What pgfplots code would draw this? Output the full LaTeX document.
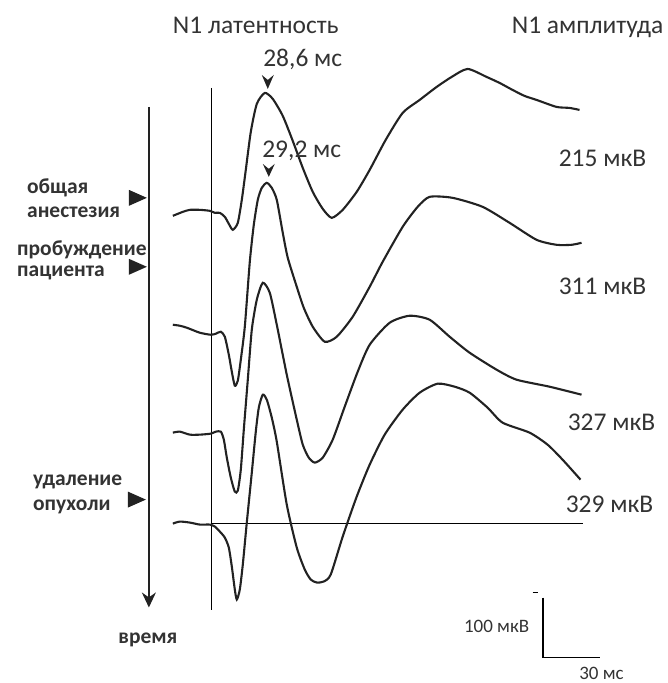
\documentclass[border=0pt]{standalone}
\usepackage{pgfplots}
\pgfplotsset{compat=1.18}
\usepackage{fontspec}
\setmainfont{Carlito}
\usetikzlibrary{arrows.meta}
\definecolor{ink}{HTML}{222222}
\definecolor{txt}{HTML}{333333}
\definecolor{thin}{HTML}{6A6A6A}
\begin{document}
\begin{tikzpicture}
\begin{axis}[
  scale only axis, width=668pt, height=683pt,
  xmin=0, xmax=668, ymin=0, ymax=683, y dir=reverse,
  axis lines=none, clip=false,
]
\addplot[draw=none] coordinates {(0,0) (668,683)};
% time arrow and reference lines
\addplot[ink, line width=2pt, -{Stealth[length=15pt,width=14pt]}] coordinates {(149,107) (149,608)};
\addplot[thin, line width=1pt] coordinates {(211.7,88) (211.7,610)};
\addplot[thin, line width=1.4pt] coordinates {(211,524) (583,524)};
% event markers
\addplot[fill=ink, draw=none] coordinates {(129,190) (147,198) (129,206) (129,190)};
\addplot[fill=ink, draw=none] coordinates {(129,259) (147,267) (129,275) (129,259)};
\addplot[fill=ink, draw=none] coordinates {(128,492) (146,500) (128,508) (128,492)};
% latency arrowheads
\addplot[fill=ink, draw=none] coordinates {(262,75) (268,80) (274,75) (268,89) (262,75)};
\addplot[fill=ink, draw=none] coordinates {(263,164) (269,169) (275,164) (269,177) (263,164)};
% scale bar
\addplot[thin, line width=1.6pt] coordinates {(543.3,598) (543.3,658) (600,658)};
\addplot[thin, line width=1.4pt] coordinates {(533,593) (538,593)};
% traces
\addplot[ink, line width=2.1pt, smooth, tension=0.4] coordinates {
(173,216) (178,214) (183,212) (190,210) (200,210) (210,211) (215,213) (220,213)
(225,217) (229,224) (233,230) (238,223) (242,200) (246,170) (251,132) (257,104)
(265,93) (273,99) (283,116) (293,141) (303,168) (313,192) (323,209) (332,218)
(343,210) (357,192) (370,170) (386,140) (403,113) (420,100) (437,87) (452,77)
(468,69) (487,77) (500,83) (513,90) (525,96) (537,100) (557,107) (570,108) (580,110)};
\addplot[ink, line width=2.1pt, smooth, tension=0.4] coordinates {
(173,325) (180,326) (187,328) (200,333) (211,335) (216,334) (221,332) (225,337)
(229,355) (232,372) (235,386) (238,381) (241,360) (245,327) (250,262) (254,225)
(258,200) (262,188) (267,183) (272,188) (277,200) (283,233) (288,258) (297,287)
(304,308) (313,327) (325,342) (337,337) (353,317) (370,287) (383,262) (403,227)
(418,207) (430,197) (453,198) (483,207) (510,223) (537,240) (557,245) (572,245) (582,243)};
\addplot[ink, line width=2.1pt, smooth, tension=0.4] coordinates {
(173,433) (180,432) (190,435) (200,435) (211,434) (216,432) (221,432) (224,440)
(227,458) (231,478) (235,492) (238,491) (241,470) (244,430) (248,380) (252,330)
(257,300) (263,283) (270,293) (277,325) (287,375) (297,420) (303,445) (309,458)
(315,463) (323,458) (333,440) (345,407) (358,372) (370,345) (390,323) (410,316)
(430,320) (450,337) (470,353) (497,370) (517,380) (550,387) (582,395)};
\addplot[ink, line width=2.1pt, smooth, tension=0.4] coordinates {
(173,524) (180,522) (190,523) (200,525) (210,525) (215,527) (220,532) (225,538)
(229,548) (232,567) (235,590) (237,600) (240,590) (243,565) (247,523) (252,473)
(256,432) (259,408) (263,395) (267,400) (272,418) (277,442) (287,505) (297,548)
(305,570) (311,580) (317,583) (324,582) (331,575) (343,537) (357,497) (370,465)
(385,435) (403,410) (420,393) (438,384) (455,387) (470,393) (488,408) (503,423)
(530,433) (548,445) (563,460) (581,480)};
% texts
\node[txt, font=\fontsize{25.5}{28}\selectfont] at (axis cs:256,25) {N1 латентность};
\node[txt, font=\fontsize{25.5}{28}\selectfont] at (axis cs:588,27) {N1 амплитуда};
\node[txt, font=\fontsize{25.5}{28}\selectfont] at (axis cs:303,59) {28,6 мс};
\node[txt, font=\fontsize{25.5}{28}\selectfont] at (axis cs:302,151) {29,2 мс};
\node[txt, font=\fontsize{25.5}{28}\selectfont] at (axis cs:603,158) {215 мкВ};
\node[txt, font=\fontsize{25.5}{28}\selectfont] at (axis cs:603,287) {311 мкВ};
\node[txt, font=\fontsize{25.5}{28}\selectfont] at (axis cs:612,423) {327 мкВ};
\node[txt, font=\fontsize{25.5}{28}\selectfont] at (axis cs:610,505) {329 мкВ};
\node[txt, font=\fontsize{19}{21}\selectfont] at (axis cs:497,627) {100 мкВ};
\node[txt, font=\fontsize{19}{21}\selectfont] at (axis cs:602,674) {30 мс};
\node[txt, font=\bfseries\fontsize{21.5}{23}\selectfont, anchor=west, inner sep=0pt] at (axis cs:27,188) {общая};
\node[txt, font=\bfseries\fontsize{21.5}{23}\selectfont, anchor=west, inner sep=0pt] at (axis cs:27,212) {анестезия};
\node[txt, font=\bfseries\fontsize{21.5}{23}\selectfont, anchor=west, inner sep=0pt] at (axis cs:17,250) {пробуждение};
\node[txt, font=\bfseries\fontsize{21.5}{23}\selectfont, anchor=west, inner sep=0pt] at (axis cs:17,273) {пациента};
\node[txt, font=\bfseries\fontsize{21.5}{23}\selectfont, anchor=west, inner sep=0pt] at (axis cs:33,482) {удаление};
\node[txt, font=\bfseries\fontsize{21.5}{23}\selectfont, anchor=west, inner sep=0pt] at (axis cs:33,507) {опухоли};
\node[txt, font=\bfseries\fontsize{21.5}{23}\selectfont] at (axis cs:148,640) {время};
\end{axis}
\end{tikzpicture}
\end{document}
